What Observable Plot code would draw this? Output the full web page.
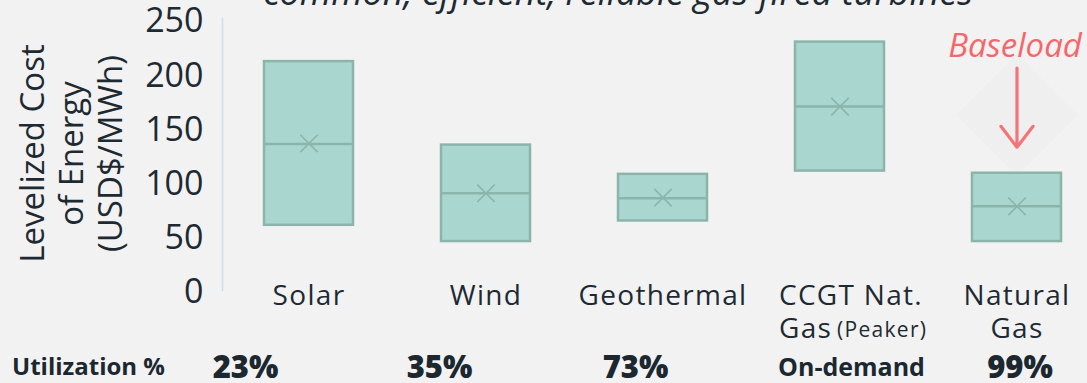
<!DOCTYPE html>
<html>
<head>
<meta charset="utf-8">
<script src="https://cdn.jsdelivr.net/npm/d3@7"></script>
<script src="https://cdn.jsdelivr.net/npm/@observablehq/plot@0.6"></script>
<style>
  html, body { margin: 0; padding: 0; background: #f2f2f2; }
  #wrap { position: relative; width: 1087px; height: 383px; overflow: hidden; background: #f2f2f2; }
  #wrap svg { position: absolute; left: 0; top: 0; }
  .util { position: absolute; font-family: "Open Sans", sans-serif; color: #1b2830; line-height: 1; white-space: nowrap; }
</style>
</head>
<body>
<div id="wrap"></div>
<script>
// ---- data ----
const categories = ["Solar", "Wind", "Geothermal", "CCGT Nat. Gas (Peaker)", "Natural Gas"];
const lows    = [62, 47, 66, 112, 47];
const highs   = [213, 136, 109, 231, 110];
const medians = [137, 91.5, 87, 171.5, 79.5];
const means   = [137.5, 91.5, 87.5, 171.5, 79.5];
const yTicks  = [0, 50, 100, 150, 200, 250];
const labels  = ["Solar", "Wind", "Geothermal", "CCGT Nat.\nGas", "Natural\nGas"];
const peakerNote = "(Peaker)";
const utilLabel = "Utilization %";
const utilization = ["23%", "35%", "73%", "On-demand", "99%"];
const yLabel = "Levelized Cost\nof Energy\n(USD$/MWh)";
const titleTail = "common, efficient, reliable gas-fired turbines";
const annotation = "Baseload";
const arrowFrom = 207, arrowTo = 134, haloAt = 164;

const data = categories.map((c, i) => ({
  cat: c, low: lows[i], high: highs[i], median: medians[i], mean: means[i], label: labels[i]
}));
const ccgt = categories[3], gas = categories[4];

const fill = "#a9d7d0", edge = "#8bb5ab", ink = "#1e2a32", red = "#f4676a";

const chart = Plot.plot({
  width: 1087, height: 383,
  marginLeft: 222, marginRight: 0, marginTop: 18, marginBottom: 93,
  style: { background: "transparent", color: ink, fontFamily: "'Open Sans', sans-serif" },
  x: { domain: categories, range: [220, 1105], paddingInner: 0.5, paddingOuter: 0.25, axis: null },
  y: { domain: [0, 250], range: [292, 21], axis: null },
  marks: [
    // title remnant cut off at top
    Plot.text([titleTail], { frameAnchor: "top", text: d => d, dx: -37, dy: -25, lineAnchor: "middle", fontSize: 36, fontStyle: "italic", fill: ink }),
    // left axis line
    Plot.frame({ anchor: "left", stroke: "#cfdde8", strokeWidth: 1.5 }),
    // y tick labels
    Plot.text(yTicks, { y: d => d, text: d => String(d), frameAnchor: "left", textAnchor: "end", dx: -19, fontSize: 34, fill: ink }),
    // y axis label
    Plot.text([yLabel], { text: d => d, frameAnchor: "left", rotate: -90, dx: -152, dy: -1, fontSize: 33, lineHeight: 1.19, textAnchor: "middle", lineAnchor: "middle", fill: ink }),
    // faint diamond halo behind arrow
    Plot.dot([gas], { x: d => d, y: () => haloAt, symbol: "diamond2", r: 55, fill: "#efefef", stroke: "none" }),
    // boxes
    Plot.barY(data, { x: "cat", y1: "low", y2: "high", fill, stroke: edge, strokeWidth: 2.5 }),
    Plot.tickY(data, { x: "cat", y: "median", stroke: edge, strokeWidth: 2.5 }),
    Plot.dot(data, { x: "cat", y: "mean", symbol: "times", r: 8, stroke: edge, strokeWidth: 1.6 }),
    // category labels
    Plot.text(data.filter(d => d.cat !== ccgt), { x: "cat", text: "label", frameAnchor: "bottom", dy: -9, lineAnchor: "top", lineHeight: 1.18, fontSize: 28, fill: ink }),
    Plot.text(data.filter(d => d.cat === ccgt), { x: "cat", text: "label", frameAnchor: "bottom", dy: -9, dx: -61, textAnchor: "start", lineAnchor: "top", lineHeight: 1.18, fontSize: 28, fill: ink }),
    Plot.text([ccgt], { x: d => d, text: () => peakerNote, frameAnchor: "bottom", dy: 40, dx: -3, textAnchor: "start", lineAnchor: "middle", fontSize: 21, fill: ink }),
    // Baseload annotation
    Plot.text([gas], { x: d => d, text: () => annotation, frameAnchor: "top", dy: 28.4, dx: -2, lineAnchor: "middle", fontSize: 33, fontStyle: "italic", fill: red }),
    Plot.arrow([gas], { x1: d => d, x2: d => d, y1: () => arrowFrom, y2: () => arrowTo, stroke: red, strokeWidth: 3.2, headLength: 22, headAngle: 75, strokeOpacity: 0.9 })
  ]
});
// widen letter spacing of the category labels (the reference uses a wide geometric face)
const spaced = new Set(labels.map(s => s.replace(/\n/g, "")).concat([peakerNote]));
chart.querySelectorAll("text").forEach(t => {
  if (spaced.has(t.textContent)) t.style.letterSpacing = "1.3px";
});
const wrap = document.getElementById("wrap");
wrap.appendChild(chart);

// Utilization row
const utilSpecs = [
  { text: utilLabel, left: 12, top: 353.7, size: 24, weight: 700, center: false },
  { text: utilization[0], left: 245.5, top: 350.5, size: 31, weight: 800, center: true },
  { text: utilization[1], left: 439.5, top: 350.5, size: 31, weight: 800, center: true },
  { text: utilization[2], left: 635.5, top: 350.5, size: 31, weight: 800, center: true },
  { text: utilization[3], left: 851.5, top: 354.3, size: 25, weight: 700, center: true },
  { text: utilization[4], left: 1020, top: 350.5, size: 31, weight: 800, center: true }
];
for (const s of utilSpecs) {
  const el = document.createElement("div");
  el.className = "util";
  el.textContent = s.text;
  el.style.left = s.left + "px";
  el.style.top = s.top + "px";
  el.style.fontSize = s.size + "px";
  el.style.fontWeight = s.weight;
  if (s.center) el.style.transform = "translateX(-50%)";
  wrap.appendChild(el);
}
</script>
</body>
</html>
